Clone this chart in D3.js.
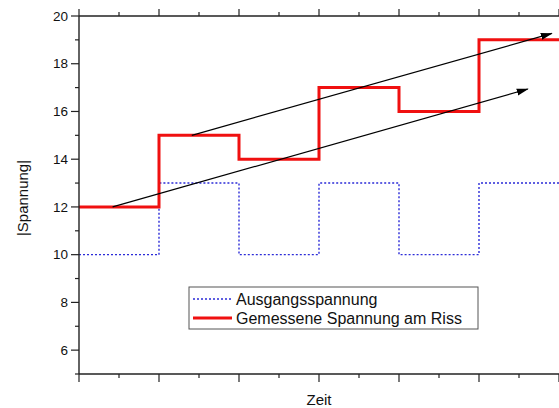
<!DOCTYPE html>
<html>
<head>
<meta charset="utf-8">
<script src="https://cdn.jsdelivr.net/npm/d3@7"></script>
<style>
  body { margin: 0; background: #fff; }
  text { font-family: "Liberation Sans", Arial, sans-serif; fill: #111; }
</style>
</head>
<body>
<script>
// step boundaries along "Zeit" (arbitrary units)
const steps = [0, 1, 2, 3, 4, 5, 6];
const ausgang = [10, 13, 10, 13, 10, 13];
const gemessen = [12, 15, 14, 17, 16, 19];
const yTicks = [6, 8, 10, 12, 14, 16, 18, 20];
const yMinor = [5, 7, 9, 11, 13, 15, 17, 19];
const xTicks = [0, 0.5, 1, 1.5, 2, 2.5, 3, 3.5, 4, 4.5, 5, 5.5, 6];
// trend arrows [x1, y1, x2, y2]
const arrows = [
  [0.42, 12, 5.61, 16.94],
  [1.41, 15, 5.91, 19.27]
];

const width = 559, height = 408;
const margin = { top: 16, right: 0, bottom: 34, left: 79 };

const svg = d3.select('body').append('svg')
  .attr('width', width)
  .attr('height', height);

const x = d3.scaleLinear().domain([0, 6]).range([margin.left, width - margin.right]);
const y = d3.scaleLinear().domain([5, 20]).range([height - margin.bottom, margin.top]);

svg.append('defs').append('marker')
  .attr('id', 'head')
  .attr('markerUnits', 'userSpaceOnUse')
  .attr('viewBox', '0 -4 12 8')
  .attr('refX', 11)
  .attr('refY', 0)
  .attr('markerWidth', 12)
  .attr('markerHeight', 8)
  .attr('orient', 'auto')
  .append('path')
  .attr('d', 'M0,-3.5L12,0L0,3.5Z')
  .attr('fill', '#000');

const stepPts = vals => vals.map((v, i) => [steps[i], v]).concat([[steps[steps.length - 1], vals[vals.length - 1]]]);
const line = d3.line().x(d => x(d[0])).y(d => y(d[1])).curve(d3.curveStepAfter);

svg.append('path')
  .datum(stepPts(ausgang))
  .attr('d', line)
  .attr('fill', 'none')
  .attr('stroke', '#2b2bd8')
  .attr('stroke-width', 1.4)
  .attr('stroke-dasharray', '2,2');

svg.append('path')
  .datum(stepPts(gemessen))
  .attr('d', line)
  .attr('fill', 'none')
  .attr('stroke', '#f01010')
  .attr('stroke-width', 3);

svg.selectAll('.arrow')
  .data(arrows)
  .enter()
  .append('line')
  .attr('class', 'arrow')
  .attr('x1', d => x(d[0]))
  .attr('y1', d => y(d[1]))
  .attr('x2', d => x(d[2]))
  .attr('y2', d => y(d[3]))
  .attr('stroke', '#000')
  .attr('stroke-width', 1.2)
  .attr('marker-end', 'url(#head)');

// axes
const axisColor = '#222';
const isMajor = v => Number.isInteger(v);

const leftAxis = svg.append('g').attr('transform', `translate(${ margin.left },0)`);
leftAxis.append('line')
  .attr('y1', y(20)).attr('y2', y(5))
  .attr('stroke', axisColor).attr('stroke-width', 1.4);
leftAxis.selectAll('.maj').data(yTicks).enter().append('line')
  .attr('x1', -8).attr('x2', 0)
  .attr('y1', d => y(d)).attr('y2', d => y(d))
  .attr('stroke', axisColor).attr('stroke-width', 1.2);
leftAxis.selectAll('.min').data(yMinor).enter().append('line')
  .attr('x1', -4).attr('x2', 0)
  .attr('y1', d => y(d)).attr('y2', d => y(d))
  .attr('stroke', axisColor).attr('stroke-width', 1.2);
leftAxis.selectAll('.lbl').data(yTicks).enter().append('text')
  .attr('x', -11)
  .attr('y', d => y(d))
  .attr('dy', '0.35em')
  .attr('text-anchor', 'end')
  .style('font-size', '13.5px')
  .text(d => d);

const bottomAxis = svg.append('g').attr('transform', `translate(0,${ y(5) })`);
bottomAxis.append('line')
  .attr('x1', x(0)).attr('x2', width)
  .attr('stroke', axisColor).attr('stroke-width', 1.4);
bottomAxis.selectAll('.t').data(xTicks).enter().append('line')
  .attr('x1', d => x(d)).attr('x2', d => x(d))
  .attr('y1', 0).attr('y2', d => isMajor(d) ? 8 : 4)
  .attr('stroke', axisColor).attr('stroke-width', 1.2);

const topAxis = svg.append('g').attr('transform', `translate(0,${ y(20) })`);
topAxis.append('line')
  .attr('x1', x(0)).attr('x2', width)
  .attr('stroke', axisColor).attr('stroke-width', 1.4);
topAxis.selectAll('.t').data(xTicks).enter().append('line')
  .attr('x1', d => x(d)).attr('x2', d => x(d))
  .attr('y1', 0).attr('y2', d => isMajor(d) ? -7 : -4)
  .attr('stroke', axisColor).attr('stroke-width', 1.2);

svg.append('text')
  .attr('x', (x(0) + x(6)) / 2)
  .attr('y', 405)
  .attr('text-anchor', 'middle')
  .style('font-size', '15px')
  .text('Zeit');

svg.append('text')
  .attr('transform', `translate(28,198) rotate(-90)`)
  .attr('text-anchor', 'middle')
  .style('font-size', '15px')
  .text('|Spannung|');

// legend
const legendItems = [
  { label: 'Ausgangsspannung', color: '#2b2bd8', width: 1.4, dash: '2,2' },
  { label: 'Gemessene Spannung am Riss', color: '#f01010', width: 3, dash: null }
];
const legend = svg.append('g').attr('transform', 'translate(189,287)');
legend.append('rect')
  .attr('width', 289).attr('height', 42)
  .attr('fill', '#fff')
  .attr('stroke', '#555')
  .attr('stroke-width', 1);
const li = legend.selectAll('.item').data(legendItems).enter().append('g')
  .attr('transform', (d, i) => `translate(0,${ 12 + i * 19 })`);
li.append('line')
  .attr('x1', 4).attr('x2', 43)
  .attr('stroke', d => d.color)
  .attr('stroke-width', d => d.width)
  .attr('stroke-dasharray', d => d.dash);
li.append('text')
  .attr('x', 47)
  .attr('dy', '0.35em')
  .style('font-size', '16px')
  .text(d => d.label);
</script>
</body>
</html>
